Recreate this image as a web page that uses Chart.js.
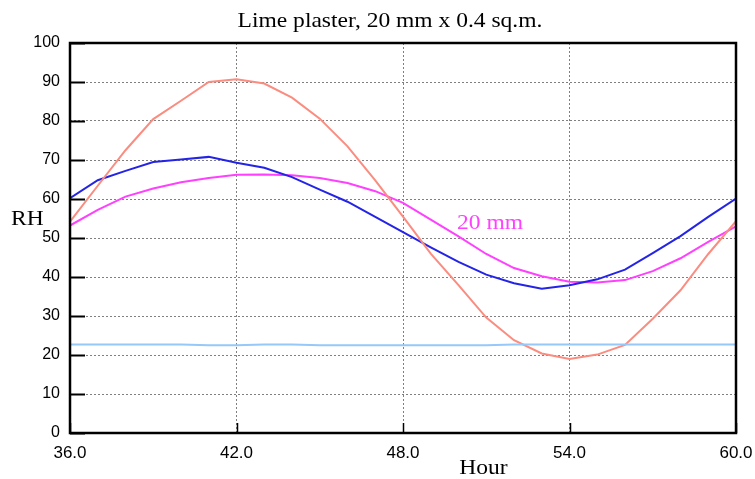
<!DOCTYPE html>
<html>
<head>
<meta charset="utf-8">
<script src="https://cdn.jsdelivr.net/npm/chart.js@4/dist/chart.umd.min.js"></script>
<style>
  html, body { margin: 0; padding: 0; background: #fff; }
  canvas { display: block; }
</style>
</head>
<body>
<canvas id="rh-chart" width="755" height="479"></canvas>
<script>
// hours on the x axis
const hours = [36, 37, 38, 39, 40, 41, 42, 43, 44, 45, 46, 47, 48,
               49, 50, 51, 52, 53, 54, 55, 56, 57, 58, 59, 60];

// room air RH with no buffering (salmon)
const rhNoBuffer = [54.2, 63.4, 72.5, 80.5, 85.2, 90.0, 90.7, 89.6, 86.0, 80.6, 73.5, 64.8, 55.5,
                    46.0, 37.9, 29.6, 23.8, 20.4, 19.0, 20.1, 22.6, 29.3, 36.6, 45.9, 54.3];

// blue series
const rhBlue = [60.2, 64.8, 67.2, 69.5, 70.1, 70.8, 69.3, 68.0, 65.6, 62.4, 59.3, 55.4, 51.5,
                47.6, 43.9, 40.6, 38.4, 37.0, 37.9, 39.4, 41.9, 46.1, 50.5, 55.4, 60.1];

// 20 mm lime plaster (magenta)
const rh20mm = [53.2, 57.2, 60.6, 62.7, 64.3, 65.4, 66.2, 66.3, 66.1, 65.4, 64.1, 62.0, 59.0,
                54.7, 50.4, 45.9, 42.3, 40.2, 38.8, 38.6, 39.2, 41.5, 44.8, 49.0, 53.0];

// outdoor / supply RH (light blue, almost flat)
const rhSupply = [22.7, 22.7, 22.7, 22.7, 22.7, 22.5, 22.5, 22.7, 22.7, 22.5, 22.5, 22.5, 22.5,
                  22.5, 22.5, 22.5, 22.7, 22.7, 22.7, 22.7, 22.7, 22.7, 22.7, 22.7, 22.7];

const xTicks = [36, 42, 48, 54, 60];

const titleText = 'Lime plaster, 20 mm x 0.4 sq.m.';
const yTitle = 'RH';
const xTitle = 'Hour';
const seriesLabel = '20 mm';

function toPoints(values) {
    return hours.map((h, i) => ({ x: h, y: values[i] }));
}

// 横向略拉宽的衬线字
function wideText(ctx, text, x, y, align) {
    ctx.save();
    ctx.translate(x, y);
    ctx.scale(1.12, 1);
    ctx.textAlign = align;
    ctx.fillText(text, 0, 0);
    ctx.restore();
}

// 外框、内向刻度和文字
const framePlugin = {
    id: 'frame',
    afterDraw(chart) {
        const { ctx, chartArea: a, scales: { x, y } } = chart;
        ctx.save();
        ctx.strokeStyle = '#000';

        // y ticks pointing inward
        ctx.lineWidth = 2;
        for (let v = 0; v <= 100; v += 10) {
            const py = Math.round(y.getPixelForValue(v)) + 0.5;
            ctx.beginPath();
            ctx.moveTo(a.left, py);
            ctx.lineTo(a.left + 15, py);
            ctx.stroke();
        }
        // x ticks pointing inward
        ctx.lineWidth = 1.5;
        xTicks.forEach(v => {
            const px = Math.round(x.getPixelForValue(v)) + 0.5;
            ctx.beginPath();
            ctx.moveTo(px, a.bottom);
            ctx.lineTo(px, a.bottom - 10);
            ctx.stroke();
        });

        ctx.lineWidth = 2.5;
        ctx.strokeRect(a.left, a.top, a.right - a.left, a.bottom - a.top);

        ctx.fillStyle = '#000';
        ctx.font = '21px "Liberation Serif", "Times New Roman", serif';
        ctx.textBaseline = 'alphabetic';
        wideText(ctx, titleText, 390, 27, 'center');
        wideText(ctx, xTitle, x.getPixelForValue(50.9), 474, 'center');
        wideText(ctx, yTitle, 11, 225, 'left');

        ctx.fillStyle = '#ff40ff';
        wideText(ctx, seriesLabel, x.getPixelForValue(49.95), y.getPixelForValue(52.3), 'left');
        ctx.restore();
    }
};

const ctx = document.getElementById('rh-chart');
new Chart(ctx, {
    type: 'line',
    data: {
        datasets: [
            { label: 'supply', data: toPoints(rhSupply), borderColor: '#96c8fa', borderWidth: 2 },
            { label: 'no buffer', data: toPoints(rhNoBuffer), borderColor: '#fa8c80', borderWidth: 2 },
            { label: 'blue', data: toPoints(rhBlue), borderColor: '#2424e6', borderWidth: 2 },
            { label: '20 mm', data: toPoints(rh20mm), borderColor: '#ff40ff', borderWidth: 2 }
        ]
    },
    options: {
        responsive: false,
        animation: false,
        devicePixelRatio: 1,
        layout: { padding: { left: 0, right: 19, top: 43, bottom: 0 } },
        elements: { point: { radius: 0 }, line: { tension: 0, fill: false } },
        plugins: { legend: { display: false }, tooltip: { enabled: false }, title: { display: false } },
        scales: {
            x: {
                type: 'linear',
                min: 36,
                max: 60,
                afterFit: s => {
                    s.height = 46;
                    // 不让末端刻度文字挤压绘图区
                    s.paddingLeft = 0;
                    s.paddingRight = 0;
                },
                afterBuildTicks: s => { s.ticks = xTicks.map(v => ({ value: v })); },
                ticks: {
                    color: '#000',
                    padding: 10,
                    maxRotation: 0,
                    font: { family: '"Liberation Sans", Arial, sans-serif', size: 17 },
                    callback: v => v.toFixed(1)
                },
                grid: { color: '#808080', lineWidth: 1, drawTicks: false },
                border: { display: false, dash: [2, 2] }
            },
            y: {
                min: 0,
                max: 100,
                afterFit: s => { s.width = 70; },
                ticks: {
                    stepSize: 10,
                    color: '#000',
                    padding: 10,
                    font: { family: '"Liberation Sans", Arial, sans-serif', size: 16 }
                },
                grid: { color: '#808080', lineWidth: 1, drawTicks: false },
                border: { display: false, dash: [2, 2] }
            }
        }
    },
    plugins: [framePlugin]
});
</script>
</body>
</html>
